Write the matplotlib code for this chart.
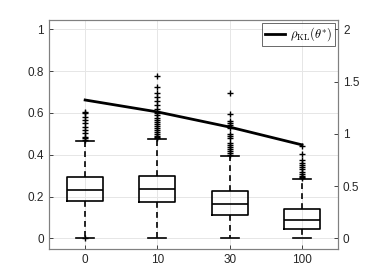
import matplotlib
matplotlib.use("Agg")
import matplotlib.pyplot as plt

plt.rcParams['font.family'] = ['Liberation Sans', 'DejaVu Sans']
plt.rcParams['mathtext.fontset'] = 'cm'

categories = ['0', '10', '30', '100']
q1 = [0.178, 0.176, 0.111, 0.046]
median = [0.232, 0.238, 0.165, 0.086]
q3 = [0.292, 0.297, 0.225, 0.140]
whisker_low = [0.0, 0.0, 0.0, 0.0]
whisker_high = [0.467, 0.476, 0.392, 0.284]
outliers_0 = [0.605, 0.600, 0.582, 0.567, 0.552, 0.535, 0.519, 0.505, 0.487, 0.478, 0.472, 0.003]
outliers_10 = [0.776, 0.722, 0.694, 0.675, 0.656, 0.638, 0.617, 0.598, 0.588, 0.578, 0.568,
               0.558, 0.548, 0.538, 0.528, 0.518, 0.508, 0.498, 0.490, 0.484, 0.479]
outliers_30 = [0.694, 0.594, 0.560, 0.550, 0.543, 0.527, 0.500, 0.490, 0.480, 0.457,
               0.447, 0.437, 0.427, 0.417, 0.408, 0.400]
outliers_100 = [0.440, 0.405, 0.373, 0.360, 0.350, 0.340, 0.330, 0.320, 0.310, 0.300, 0.294, 0.289]
rho_kl = [1.324, 1.21, 1.065, 0.895]

fig = plt.figure(figsize=(3.74, 2.80), dpi=100)
ax = fig.add_axes([0.131, 0.111, 0.773, 0.818])

stats = []
fl = [outliers_0, outliers_10, outliers_30, outliers_100]
for i in range(4):
    stats.append(dict(med=median[i], q1=q1[i], q3=q3[i], whislo=whisker_low[i],
                      whishi=whisker_high[i], fliers=fl[i], label=categories[i]))

pos = [1, 2, 3, 4]
ax.bxp(stats, positions=pos, widths=0.5, showfliers=True,
       boxprops=dict(color='black', linewidth=1.2),
       medianprops=dict(color='black', linewidth=1.2),
       whiskerprops=dict(color='black', linewidth=1.2, linestyle=(0, (3.5, 2.5))),
       capprops=dict(color='black', linewidth=1.2),
       flierprops=dict(marker='+', markersize=4, markeredgecolor='black', markeredgewidth=1.0),
       capwidths=0.25, zorder=3)

ax.set_xlim(0.5, 4.5)
ax.set_ylim(-0.05, 1.045)
ax.set_xticks(pos)
ax.set_xticklabels(categories)
ax.set_yticks([0, 0.2, 0.4, 0.6, 0.8, 1.0])
ax.set_yticklabels(['0', '0.2', '0.4', '0.6', '0.8', '1'])
ax.grid(True, color='#e6e6e6', linewidth=0.7)
ax.set_axisbelow(True)
ax.tick_params(direction='in', length=3, labelsize=8.5, colors='#262626', width=0.6)
for s in ax.spines.values():
    s.set_color('#808080')
    s.set_linewidth(0.8)

ax2 = ax.twinx()
ax2.plot(pos, rho_kl, color='black', linewidth=2, label=r'$\rho_{\mathrm{KL}}(\theta^{*})$')
ax2.set_ylim(-0.1, 2.09)
ax2.set_yticks([0, 0.5, 1, 1.5, 2])
ax2.set_yticklabels(['0', '0.5', '1', '1.5', '2'])
ax2.tick_params(direction='in', length=3, labelsize=8.5, colors='#262626', width=0.6)
for s in ax2.spines.values():
    s.set_color('#808080')
    s.set_linewidth(0.8)
leg = ax2.legend(loc='upper right', fontsize=9, frameon=True, fancybox=False,
                 borderpad=0.2, handlelength=1.6, handletextpad=0.4,
                 borderaxespad=0.25)
leg.get_frame().set_edgecolor('#262626')
leg.get_frame().set_linewidth(0.6)

fig.savefig('out.png', dpi=100)
